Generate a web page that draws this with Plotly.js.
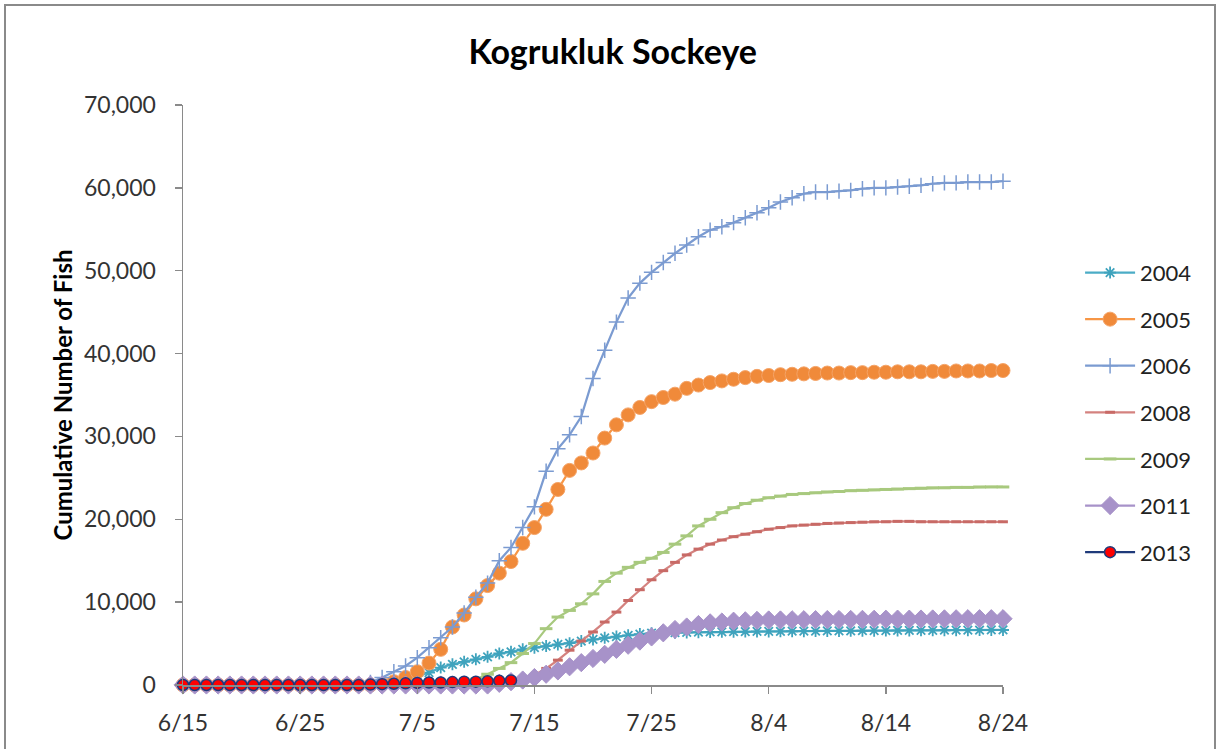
<!DOCTYPE html>
<html>
<head>
<meta charset="utf-8">
<script src="https://cdn.plot.ly/plotly-3.0.1.min.js"></script>
<style>
  body { margin:0; padding:0; background:#fff; }
  #chart { position:absolute; left:0; top:0; width:1217px; height:749px; }
  #frame { position:absolute; left:4px; top:4px; width:1208px; height:800px; border:2px solid #8a8a8a; pointer-events:none; }
</style>
</head>
<body>
<div id="chart"></div>
<div id="frame"></div>
<script>
// Day labels (6/15 .. 8/24)
const days = [
  "6/15","6/16","6/17","6/18","6/19","6/20","6/21","6/22","6/23","6/24","6/25","6/26","6/27","6/28","6/29","6/30",
  "7/1","7/2","7/3","7/4","7/5","7/6","7/7","7/8","7/9","7/10","7/11","7/12","7/13","7/14","7/15","7/16","7/17","7/18","7/19","7/20",
  "7/21","7/22","7/23","7/24","7/25","7/26","7/27","7/28","7/29","7/30","7/31",
  "8/1","8/2","8/3","8/4","8/5","8/6","8/7","8/8","8/9","8/10","8/11","8/12","8/13","8/14","8/15","8/16","8/17","8/18","8/19","8/20",
  "8/21","8/22","8/23","8/24"
];
const tickLabels = ["6/15","6/25","7/5","7/15","7/25","8/4","8/14","8/24"];
const yTicks = [0,10000,20000,30000,40000,50000,60000,70000];

const y2004 = [0,0,0,0,0,0,0,0,0,0,0,0,0,0,0,0,0,0,
  300,700,1100,1500,2100,2500,2800,3100,3400,3800,4000,4300,4500,4700,4900,5050,5300,5500,5700,5850,6000,6150,
  6250,6300,6320,6350,6380,6400,6420,6440,6450,6460,6470,6480,6490,6500,6510,6520,6530,6540,6550,6560,
  6570,6580,6590,6600,6600,6610,6620,6620,6630,6640,6640];
const y2005 = [0,0,0,0,0,0,0,0,0,0,0,0,0,0,0,0,0,
  100,400,900,1600,2650,4300,7000,8450,10400,12000,13500,14900,17100,19000,21200,23600,25900,26800,28000,29800,
  31400,32600,33500,34200,34700,35100,35800,36200,36500,36700,36900,37100,37250,37350,37450,37500,37550,37600,
  37650,37650,37700,37700,37750,37750,37800,37800,37800,37850,37850,37900,37900,37900,37950,37950];
const y2006 = [0,0,0,0,0,0,0,0,0,0,0,0,0,0,0,0,
  300,900,1600,2300,3300,4500,5700,7000,8700,10600,12300,15000,16600,19000,21500,25800,28500,30200,32400,37000,
  40400,43800,46700,48500,49800,51000,52100,53100,54100,54900,55300,55800,56400,57000,57600,58300,58800,59300,
  59500,59500,59600,59700,59900,60000,60000,60100,60200,60300,60500,60600,60600,60700,60700,60700,60800];
const y2008 = [0,0,0,0,0,0,0,0,0,0,0,0,0,0,0,0,0,0,0,0,0,0,0,0,0,0,0,0,
  200,600,1200,2000,3000,4200,5300,6400,7600,8800,10200,11500,12700,13800,14800,15700,16400,17000,17500,17900,
  18200,18500,18800,19000,19200,19300,19400,19500,19550,19600,19650,19700,19700,19750,19750,19700,19700,19700,
  19700,19700,19700,19700,19700];
const y2009 = [0,0,0,0,0,0,0,0,0,0,0,0,0,0,0,0,0,0,0,0,0,0,0,0,
  200,700,1300,2000,2700,3800,5000,6800,8200,9000,9800,11000,12500,13500,14200,14800,15300,16000,17000,18000,
  19200,20000,20800,21400,21900,22300,22600,22800,23000,23100,23200,23300,23350,23450,23500,23550,23600,23650,
  23700,23750,23800,23800,23850,23850,23900,23900,23900];
const y2011 = [0,0,0,0,0,0,0,0,0,0,0,0,0,0,0,0,0,0,0,0,0,0,0,0,0,0,0,
  200,400,600,900,1300,1700,2200,2700,3200,3700,4300,4800,5300,5800,6300,6700,7000,7300,7500,7600,7700,7750,
  7800,7850,7850,7870,7880,7890,7900,7900,7910,7920,7930,7940,7950,7950,7960,7970,7980,7990,8000,8000,8000,8000];
const y2013 = [0,0,0,0,0,0,0,0,0,0,0,0,0,0,0,0,
  50,100,150,200,250,300,300,350,400,400,450,500,550];

const FONT = "Lato, 'Open Sans', sans-serif";

function tr(name, y, color, marker, lineColor) {
  return {
    type: "scatter", mode: "lines+markers", name: name,
    x: days.slice(0, y.length), y: y,
    line: { color: lineColor || color, width: 2.25 },
    marker: marker,
    cliponaxis: false,
    legendgroup: name
  };
}

const data = [
  tr("2004", y2004, "#4BACC6", { symbol: "asterisk-open", size: 10, color: "#3FA3BD", line: { color: "#3FA3BD", width: 1.8 } }),
  tr("2005", y2005, "#F79646", { symbol: "circle", size: 14, color: "#F08A3A", line: { color: "#F5A366", width: 1 } }),
  tr("2006", y2006, "#7B9BD1", { symbol: "cross-thin-open", size: 11, color: "#7B9BD1", line: { color: "#7B9BD1", width: 1.5 } }),
  tr("2008", y2008, "#D4827F", { symbol: "line-ew-open", size: 7, color: "#C86A66", line: { color: "#C86A66", width: 3 } }),
  tr("2009", y2009, "#A8C97E", { symbol: "line-ew-open", size: 9, color: "#A8C97E", line: { color: "#A8C97E", width: 3 } }),
  tr("2011", y2011, "#A792C9", { symbol: "diamond", size: 14, color: "#A792C9", line: { color: "#A792C9", width: 1 } }),
  tr("2013", y2013, "#FF0000", { symbol: "circle", size: 11, color: "#FF0000", line: { color: "#1F3A7A", width: 1.5 } }, "#1F3A7A")
];

const layout = {
  width: 1217, height: 749,
  margin: { l: 183, r: 214, t: 105, b: 64, pad: 0 },
  paper_bgcolor: "#ffffff", plot_bgcolor: "#ffffff",
  font: { family: FONT, color: "#333333" },
  title: {
    text: "<b>Kogrukluk Sockeye</b>",
    font: { family: FONT, size: 34, color: "#000000" },
    x: 0.524, xref: "paper", xanchor: "center",
    y: 52, yref: "container", yanchor: "middle"
  },
  xaxis: {
    type: "category",
    range: [0, 70],
    tickmode: "array", tickvals: tickLabels, ticktext: tickLabels,
    ticks: "outside", ticklen: 7, tickcolor: "#8a8a8a", tickwidth: 1.5,
    showline: true, linecolor: "#8a8a8a", linewidth: 1.5,
    showgrid: false, zeroline: false,
    tickfont: { family: FONT, size: 23, color: "#333333" },
    ticklabelstandoff: 10,
    fixedrange: true
  },
  yaxis: {
    range: [0, 70000],
    tickmode: "array", tickvals: yTicks,
    tickformat: ",d",
    ticks: "outside", ticklen: 7, tickcolor: "#8a8a8a", tickwidth: 1.5,
    showline: true, linecolor: "#8a8a8a", linewidth: 1.5,
    showgrid: false, zeroline: false,
    tickfont: { family: FONT, size: 23, color: "#333333" },
    ticklabelstandoff: 14,
    title: { text: "<b>Cumulative Number of Fish</b>", font: { family: FONT, size: 24, color: "#000000" }, standoff: 4 },
    fixedrange: true
  },
  legend: {
    x: 1.094, xanchor: "left", y: 0.747, yanchor: "top",
    font: { family: FONT, size: 22, color: "#222222" },
    traceorder: "grouped", tracegroupgap: 15,
    itemwidth: 50,
    bgcolor: "rgba(0,0,0,0)", borderwidth: 0
  },
  showlegend: true
};

Plotly.newPlot("chart", data, layout, { staticPlot: true, displayModeBar: false });
</script>
</body>
</html>
